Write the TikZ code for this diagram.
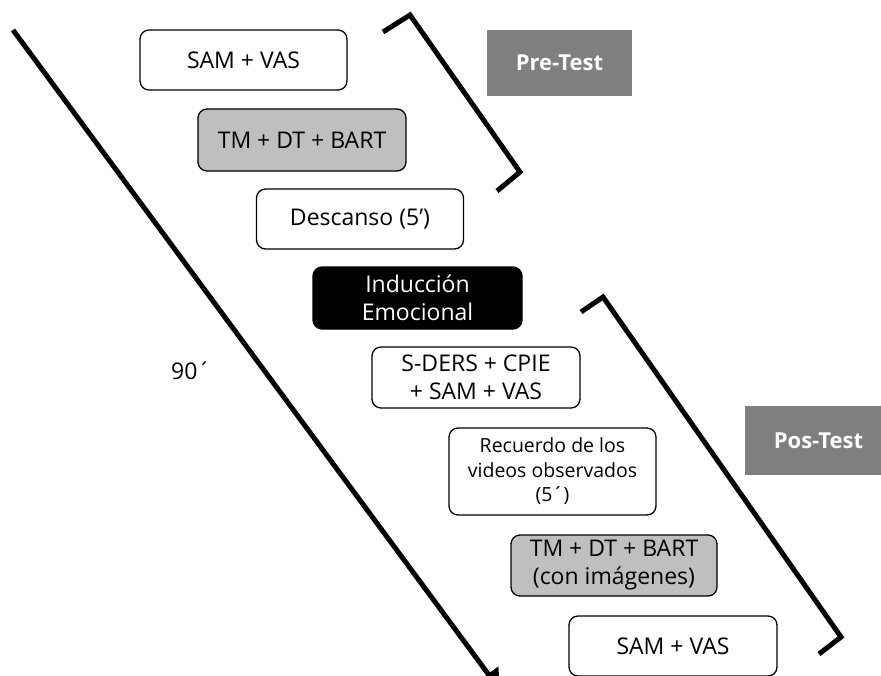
\documentclass[tikz,border=0pt]{standalone}
\usepackage{fontspec}
\setmainfont{Open Sans}
\usetikzlibrary{arrows.meta}
\definecolor{lightbox}{RGB}{191,191,191}
\definecolor{tagbox}{RGB}{127,127,127}
\tikzset{
  stepbox/.style={draw=black, line width=1.3pt, rounded corners=9pt, rectangle,
    minimum width=207pt, minimum height=61pt, align=center, inner sep=0pt,
    font=\fontsize{23}{28}\selectfont, fill=white},
  graybox/.style={stepbox, fill=lightbox},
  blackbox/.style={stepbox, fill=black, text=white},
  tag/.style={rectangle, fill=tagbox, text=white, inner sep=0pt,
    font=\bfseries\fontsize{22}{26}\selectfont},
  thick line/.style={line width=5pt, line join=miter},
}
\begin{document}
\begin{tikzpicture}[x=1pt,y=-1pt]
\useasboundingbox (0,0) rectangle (881,675);
\clip (0,0) rectangle (881,675);
\fill[white] (0,0) rectangle (881,675);

% main arrow
\coordinate (a0) at (13,30);
\coordinate (a1) at (500,690);
\draw[thick line, -{Triangle[width=24pt,length=20pt]}] (a0) -- (a1);

% boxes
\node[stepbox, minimum width=207pt, minimum height=60pt] (b1) at (243.5,60) {SAM + VAS};
\node[graybox, minimum width=208pt, minimum height=62pt] (b2) at (302,140) {TM + DT + BART};
\node[stepbox, minimum width=207pt, minimum height=60pt] (b3) at (360,219) {Descanso (5’)};
\node[blackbox, minimum width=209pt, minimum height=62pt] (b4) at (417.5,298) {Inducción\\Emocional};
\node[stepbox, minimum width=208pt, minimum height=61pt] (b5) at (476,377.5) {S-DERS + CPIE\\+ SAM + VAS};
\node[stepbox, minimum width=207pt, minimum height=87pt, font=\fontsize{19.5}{24.5}\selectfont] (b6) at (552.5,471.5) {Recuerdo de los\\videos observados\\(5´)};
\node[graybox, minimum width=206pt, minimum height=61pt] (b7) at (614,565.5) {TM + DT + BART\\(con imágenes)};
\node[stepbox, minimum width=208pt, minimum height=60pt] (b8) at (673,646) {SAM + VAS};

% labels
\node[font=\fontsize{23}{28}\selectfont] (t90) at (191,371) {90´};
\node[tag, minimum width=145pt, minimum height=66pt] (pre) at (559.5,63) {Pre-Test};
\node[tag, minimum width=147pt, minimum height=69pt] (pos) at (818.5,440.5) {Pos-Test};

% brackets
\coordinate (p1) at (383,32);
\coordinate (p2) at (410,15);
\coordinate (p3) at (520,172);
\coordinate (p4) at (497,191);
\draw[thick line] (p1) -- (p2) -- (p3) -- (p4);
\coordinate (q1) at (581,312);
\coordinate (q2) at (603,297);
\coordinate (q3) at (841,637);
\coordinate (q4) at (819,654);
\draw[thick line] (q1) -- (q2) -- (q3) -- (q4);
\end{tikzpicture}
\end{document}
